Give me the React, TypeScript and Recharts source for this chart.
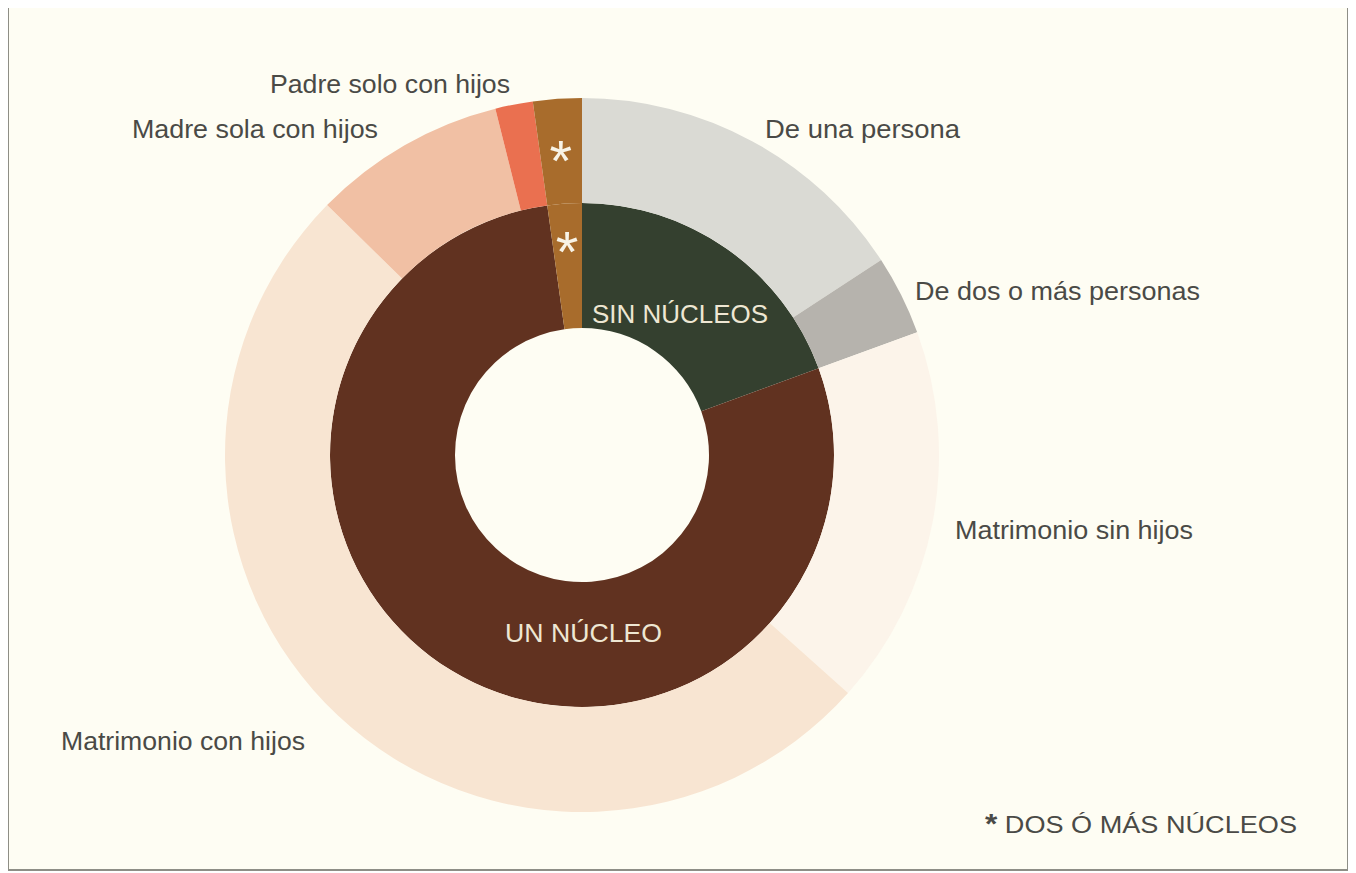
import React from 'react';
import { PieChart, Pie, Cell } from 'recharts';

// outer ring: household types (share of all households, %)
const outerNames = [
  'De una persona',
  'De dos o más personas',
  'Matrimonio sin hijos',
  'Matrimonio con hijos',
  'Madre sola con hijos',
  'Padre solo con hijos',
  'Dos ó más núcleos'
];
const outerValues = [15.8, 3.6, 17.2, 50.7, 8.75, 1.7, 2.2];
const outerColors = ['#dadad4', '#b6b3ad', '#fcf4ea', '#f8e5d2', '#f1c0a4', '#ea7050', '#a86c2c'];

// inner ring: number of family nuclei
const innerNames = ['SIN NÚCLEOS', 'UN NÚCLEO', 'DOS Ó MÁS NÚCLEOS'];
const innerValues = [19.4, 78.35, 2.2];
const innerColors = ['#34402f', '#613220', '#a86c2c'];

const outerData = outerNames.map((name, i) => ({ name, value: outerValues[i] }));
const innerData = innerNames.map((name, i) => ({ name, value: innerValues[i] }));

const W = 1342;
const H = 865;
const CX = 575;
const CY = 449;
const RADIAN = Math.PI / 180;
const FONT = '"Liberation Sans", Arial, sans-serif';
const TEXT = '#4a4a46';

// white asterisk drawn inside the "dos o más núcleos" slice
const starLabel = (target: string, radius: number) => (props: any) => {
  const { cx, cy, midAngle } = props;
  const name = props.name ?? props.payload?.name;
  if (name !== target) return null;
  const x = cx + radius * Math.cos(-midAngle * RADIAN);
  const y = cy + radius * Math.sin(-midAngle * RADIAN);
  return (
    <text x={x} y={y + 33} fill="#f8f3e6" fontSize={58} fontFamily={FONT} textAnchor="middle">
      *
    </text>
  );
};

const outerLabels = [
  { text: 'Padre solo con hijos', x: 263, y: 87, w: 240 },
  { text: 'Madre sola con hijos', x: 125, y: 132, w: 246 },
  { text: 'De una persona', x: 758, y: 132, w: 195 },
  { text: 'De dos o más personas', x: 908, y: 294, w: 285 },
  { text: 'Matrimonio sin hijos', x: 948, y: 533, w: 238 },
  { text: 'Matrimonio con hijos', x: 54, y: 744, w: 244 }
];

const innerLabels = [
  { text: 'SIN NÚCLEOS', x: 585, y: 317, w: 176 },
  { text: 'UN NÚCLEO', x: 498, y: 636, w: 157 }
];

export default function App() {
  return (
    <div
      style={{
        position: 'relative',
        width: W,
        height: H,
        marginLeft: -1,
        marginTop: -2,
        background: '#fefdf3'
      }}>
      <div style={{ position: 'absolute', left: 0, top: 0 }}>
        <PieChart width={W} height={H} margin={{ top: 0, right: 0, bottom: 0, left: 0 }}>
          <Pie
            data={innerData}
            dataKey="value"
            cx={CX}
            cy={CY}
            innerRadius={127}
            outerRadius={252}
            startAngle={90}
            endAngle={-270}
            stroke="none"
            labelLine={false}
            label={starLabel('DOS Ó MÁS NÚCLEOS', 217)}
            isAnimationActive={false}>
            {innerData.map((entry, i) =>
              <Cell key={`in-${i}`} fill={innerColors[i]} />
            )}
          </Pie>
          <Pie
            data={outerData}
            dataKey="value"
            cx={CX}
            cy={CY}
            innerRadius={252}
            outerRadius={357}
            startAngle={90}
            endAngle={-270}
            stroke="none"
            labelLine={false}
            label={starLabel('Dos ó más núcleos', 308)}
            isAnimationActive={false}>
            {outerData.map((entry, i) =>
              <Cell key={`out-${i}`} fill={outerColors[i]} />
            )}
          </Pie>
        </PieChart>
      </div>

      <svg
        width={W}
        height={H}
        style={{ position: 'absolute', left: 0, top: 0, pointerEvents: 'none' }}>
        {outerLabels.map((l) =>
          <text
            key={l.text}
            x={l.x}
            y={l.y}
            fill={TEXT}
            fontSize={25}
            fontFamily={FONT}
            textLength={l.w}
            lengthAdjust="spacingAndGlyphs">
            {l.text}
          </text>
        )}
        {innerLabels.map((l) =>
          <text
            key={l.text}
            x={l.x}
            y={l.y}
            fill="#eee7d3"
            fontSize={26}
            fontFamily={FONT}
            textLength={l.w}
            lengthAdjust="spacingAndGlyphs">
            {l.text}
          </text>
        )}
        {/* legend for the asterisk */}
        <text
          x={978}
          y={827}
          fill={TEXT}
          fontSize={24}
          fontFamily={FONT}
          textLength={312}
          lengthAdjust="spacingAndGlyphs">
          <tspan fontWeight="bold" fontSize={28}>*</tspan> DOS Ó MÁS NÚCLEOS
        </text>
        <rect x={1} y={1} width={W - 2} height={H - 2} fill="none" stroke="#8e8e86" strokeWidth={2} />
      </svg>
    </div>
  );
}
